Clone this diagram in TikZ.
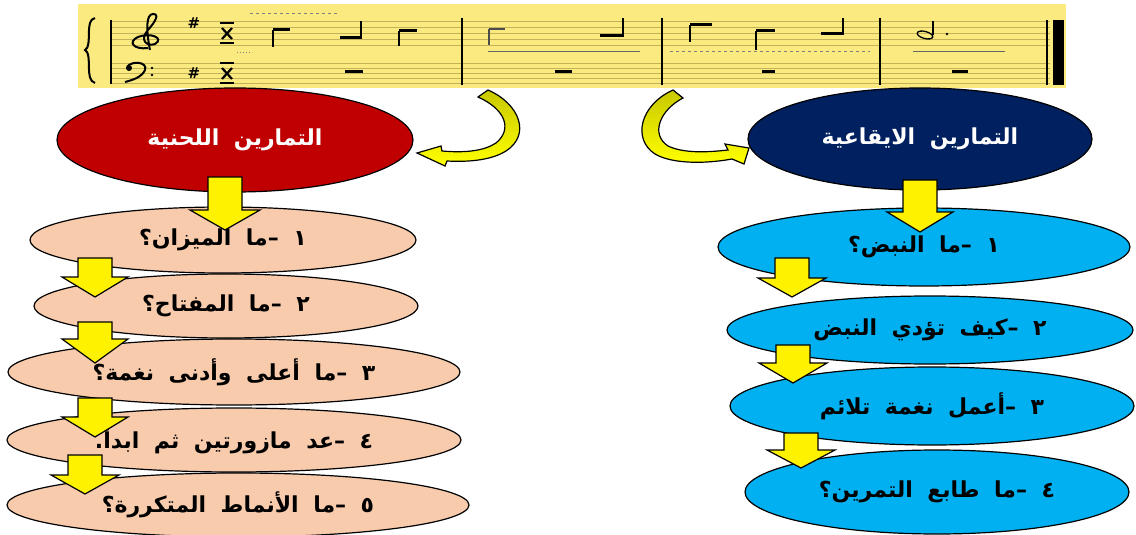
\documentclass[tikz,border=0pt]{standalone}
\usepackage{fontspec}
\setmainfont{DejaVu Sans}
\newfontfamily\arfont[Script=Arabic,WordSpace=1.9]{DejaVu Sans}
\TeXXeTstate=1
\usetikzlibrary{shapes.geometric,calc}
\definecolor{staffyellow}{RGB}{250,234,128}
\definecolor{staffline}{RGB}{196,178,90}
\definecolor{darkred}{RGB}{192,0,0}
\definecolor{navyb}{RGB}{0,32,96}
\definecolor{peach}{RGB}{248,203,173}
\definecolor{skyb}{RGB}{0,176,240}
\definecolor{olivey}{RGB}{200,200,0}
\newcommand\blockarr[6]{%
  \draw[blk] (#1-#5,#2) -- (#1+#5,#2) -- (#1+#5,#3) -- (#1+#6,#3) -- (#1,#4)
    -- (#1-#6,#3) -- (#1-#5,#3) -- cycle;}
\tikzset{
  oval/.style={ellipse, draw=black, line width=1.2pt, inner sep=0pt,
    font=\arfont\bfseries\fontsize{22}{25}\selectfont},
  titleoval/.style={oval, text=white},
  itemoval/.style={oval, text=black},
  blk/.style={fill=yellow, draw=black, line width=1.2pt, line join=miter},
  curvarr/.style={top color=olivey, bottom color=yellow, draw=black, line width=1.2pt},
  sline/.style={draw=staffline, line width=0.7pt},
  stem/.style={line width=1.3pt},
  nbar/.style={line width=3pt},
}
\begin{document}
\begin{tikzpicture}[x=1pt,y=-1pt]
\useasboundingbox (0,0) rectangle (1136,535);
\fill[white] (0,0) rectangle (1136,535);
% ---------- staff ----------
\fill[staffyellow] (78,4) rectangle (1066,88);
\foreach \y in {21,27,33,39,45,63,68,73,78,83}
  \draw[sline] (110,\y) -- (1050,\y);
\draw[line width=2pt] (95,18) .. controls (84,20) and (93,46) .. (85,50)
  .. controls (93,54) and (84,80) .. (95,83);
\draw[line width=1.2pt] (111,20) -- (111,84);
\foreach \x in {462,662,880}
  \draw[line width=1.4pt] (\x,18) -- (\x,85);
\draw[line width=1.2pt] (1047,20) -- (1047,85);
\fill (1053,20) rectangle (1064,85);
% treble clef
\draw[line width=2pt] (148,48) .. controls (134,50) and (127,42) .. (138,37)
  .. controls (150,32) and (165,38) .. (155,44) .. controls (147,47) and (139,40) .. (148,30)
  .. controls (155,22) and (160,14) .. (153,14) .. controls (146,14) and (146,30) .. (150,50);
% bass clef
\fill (129,68) circle (3);
\draw[line width=2pt] (127,67) .. controls (132,60) and (148,62) .. (145,70)
  .. controls (142,77) and (133,80) .. (125,82);
\fill (152,68) circle (1.4); \fill (152,75) circle (1.4);
% sharps and time signatures
\node[font=\bfseries\fontsize{15}{15}\selectfont] (sh1) at (194,23) {\#};
\node[font=\bfseries\fontsize{15}{15}\selectfont] (sh2) at (194,73) {\#};
\foreach \yy in {23,63} {
  \draw[line width=2.2pt] (220,\yy) -- (234,\yy);
  \draw[line width=2.2pt] (222,\yy+5) -- (232,\yy+16) (232,\yy+5) -- (222,\yy+16);
  \draw[line width=2.2pt] (220,\yy+20) -- (234,\yy+20);
}
\draw[gray, dashed, line width=0.8pt] (250,13) -- (337,13);
\draw[gray, dotted, line width=1pt] (237,53) -- (252,53);
% measure 1
\draw[nbar] (273,30) -- (290,30); \draw[stem] (273,30) -- (273,47);
\draw[nbar] (340,38) -- (360,38); \draw[stem] (361,39) -- (361,21);
\draw[nbar] (399,31) -- (417,31); \draw[stem] (399,31) -- (399,46);
\draw[nbar] (345,72) -- (363,72);
% measure 2
\draw[line width=2pt, black!70] (489,29) -- (505,29); \draw[stem, black!70] (489,29) -- (489,45);
\draw[nbar] (600,36) -- (622,36); \draw[stem] (623,37) -- (623,18);
\draw[nbar] (555,72) -- (572,72);
\draw[black!60, line width=1pt] (488,52) -- (640,52);
% measure 3
\draw[nbar] (690,25) -- (712,25); \draw[stem] (690,25) -- (690,42);
\draw[nbar] (756,31) -- (775,31); \draw[stem] (756,31) -- (756,50);
\draw[nbar] (821,34) -- (842,34); \draw[stem] (843,35) -- (843,18);
\draw[nbar] (762,72) -- (775,72);
\draw[black!50, dashed, line width=1pt] (670,52) -- (870,52);
% measure 4
\draw[line width=1.3pt, rotate around={-15:(925,35)}] (925,35) ellipse (8 and 3.5);
\draw[stem] (933,35) -- (933,21);
\fill (947,34) circle (1.3);
\draw[black!60, line width=1pt] (913,52) -- (1005,52);
\draw[nbar] (952,72) -- (968,72);
% ---------- ovals ----------
\node[titleoval, fill=darkred, minimum width=356, minimum height=104] (tl) at (235,140)
  {\beginR التمارين اللحنية\endR};
\node[itemoval, fill=peach, minimum width=386, minimum height=66] (l1) at (223,240)
  {\beginR ١ –ما الميزان؟\endR};
\node[itemoval, fill=peach, minimum width=384, minimum height=64] (l2) at (226,306)
  {\beginR ٢ –ما المفتاح؟\endR};
\node[itemoval, fill=peach, minimum width=452, minimum height=66] (l3) at (234,372)
  {\beginR ٣ –ما أعلى وأدنى نغمة؟\endR};
\node[itemoval, fill=peach, minimum width=454, minimum height=64] (l4) at (234,440)
  {\beginR ٤ –عد مازورتين ثم ابدأ.\endR};
\node[itemoval, fill=peach, minimum width=462, minimum height=64] (l5) at (238,505)
  {\beginR ٥ –ما الأنماط المتكررة؟\endR};
\node[titleoval, fill=navyb, minimum width=344, minimum height=102] (tr) at (920,139)
  {\beginR التمارين الايقاعية\endR};
\node[itemoval, fill=skyb, minimum width=412, minimum height=78] (r1) at (924,247)
  {\beginR ١ –ما النبض؟\endR};
\node[itemoval, fill=skyb, minimum width=406, minimum height=68] (r2) at (930,330)
  {\beginR ٢ –كيف تؤدي النبض\endR};
\node[itemoval, fill=skyb, minimum width=404, minimum height=78] (r3) at (932,406)
  {\beginR ٣ –أعمل نغمة تلائم\endR};
\node[itemoval, fill=skyb, minimum width=384, minimum height=84] (r4) at (937,492)
  {\beginR ٤ –ما طابع التمرين؟\endR};
% ---------- block arrows ----------
\blockarr{225}{177}{210}{230}{17}{35}
\blockarr{95}{258}{277}{297}{17}{33}
\blockarr{95}{322}{339}{363}{17}{33}
\blockarr{95}{398}{417}{437}{17}{33}
\blockarr{85}{455}{475}{494}{17}{34}
\blockarr{920}{180}{212}{232}{17}{33}
\blockarr{792}{258}{278}{297}{17}{34}
\blockarr{793}{345}{363}{383}{17}{34}
\blockarr{801}{433}{450}{468}{17}{34}
% ---------- curved arrows ----------
\draw[curvarr] (488,90) .. controls (520,104) and (531,135) .. (506,151)
  .. controls (490,161) and (466,162) .. (447,161) -- (445,166) -- (417,153)
  -- (441,146) -- (442,151) .. controls (465,153) and (484,151) .. (496,143)
  .. controls (513,129) and (505,109) .. (478,97) -- cycle;
\draw[curvarr] (673,90) -- (683,98) .. controls (660,110) and (650,134) .. (668,146)
  .. controls (685,154) and (710,152) .. (728,150) -- (725,144) -- (749,148)
  -- (744,164) -- (732,159) .. controls (705,164) and (672,164) .. (655,154)
  .. controls (632,139) and (640,105) .. (673,90) -- cycle;
\end{tikzpicture}
\end{document}
